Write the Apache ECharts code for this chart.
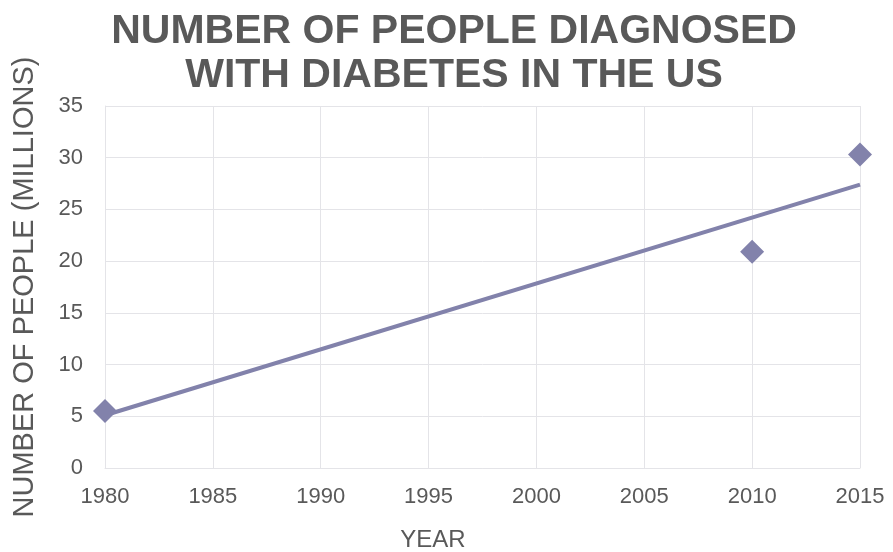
<!DOCTYPE html>
<html>
<head>
<meta charset="utf-8">
<script src="https://cdn.jsdelivr.net/npm/echarts@6/dist/echarts.min.js"></script>
<style>
  html, body { margin: 0; padding: 0; background: #fff; }
  #chart { width: 893px; height: 552px; }
</style>
</head>
<body>
<div id="chart"></div>
<script>
var years = [1980, 2010, 2015];
var people = [5.5, 20.9, 30.3];
// trendline endpoints as drawn
var trendYears = [1980, 2015];
var trendValues = [5.1, 27.4];

var xTicks = [1980, 1985, 1990, 1995, 2000, 2005, 2010, 2015];
var yTicks = [0, 5, 10, 15, 20, 25, 30, 35];

var textColor = '#595959';
var markColor = '#8282ab';
var gridColor = '#e4e4e8';

var chart = echarts.init(document.getElementById('chart'));

chart.setOption({
  backgroundColor: '#fff',
  animation: false,
  title: [{
    text: 'NUMBER OF PEOPLE DIAGNOSED\nWITH DIABETES IN THE US',
    left: 449,
    top: 5,
    textAlign: 'center',
    textStyle: {
      fontFamily: 'Liberation Sans, Arial',
      fontWeight: 'bold',
      fontSize: 41,
      lineHeight: 44,
      color: textColor
    }
  }, {
    text: 'YEAR',
    left: 428,
    top: 523,
    textAlign: 'center',
    textStyle: {
      fontFamily: 'Liberation Sans, Arial',
      fontWeight: 'normal',
      fontSize: 24,
      color: textColor
    }
  }],
  grid: {
    left: 105,
    right: 33,
    top: 106,
    bottom: 84
  },
  xAxis: {
    type: 'value',
    min: xTicks[0],
    max: xTicks[xTicks.length - 1],
    interval: 5,
    axisLine: { show: true, lineStyle: { color: gridColor } },
    axisTick: { show: false },
    splitLine: { show: true, lineStyle: { color: gridColor, width: 1 } },
    axisLabel: {
      margin: 18,
      fontFamily: 'Liberation Sans, Arial',
      fontSize: 22,
      color: textColor,
      formatter: function (v) { return String(v); }
    }
  },
  yAxis: {
    type: 'value',
    min: yTicks[0],
    max: yTicks[yTicks.length - 1],
    interval: 5,
    name: 'NUMBER OF PEOPLE (MILLIONS)',
    nameLocation: 'middle',
    nameGap: 66,
    nameTextStyle: {
      fontFamily: 'Liberation Sans, Arial',
      fontSize: 29,
      color: textColor
    },
    axisLine: { show: true, lineStyle: { color: gridColor } },
    axisTick: { show: false },
    splitLine: { show: true, lineStyle: { color: gridColor, width: 1 } },
    axisLabel: {
      margin: 22,
      fontFamily: 'Liberation Sans, Arial',
      fontSize: 22,
      color: textColor
    }
  },
  series: [{
    name: 'Trend',
    type: 'line',
    data: trendYears.map(function (y, i) { return [y, trendValues[i]]; }),
    showSymbol: false,
    lineStyle: { color: markColor, width: 4 },
    z: 2
  }, {
    name: 'Diagnosed',
    type: 'scatter',
    data: years.map(function (y, i) { return [y, people[i]]; }),
    symbol: 'diamond',
    symbolSize: 24,
    itemStyle: { color: markColor, opacity: 1 },
    z: 3
  }]
});
</script>
</body>
</html>
